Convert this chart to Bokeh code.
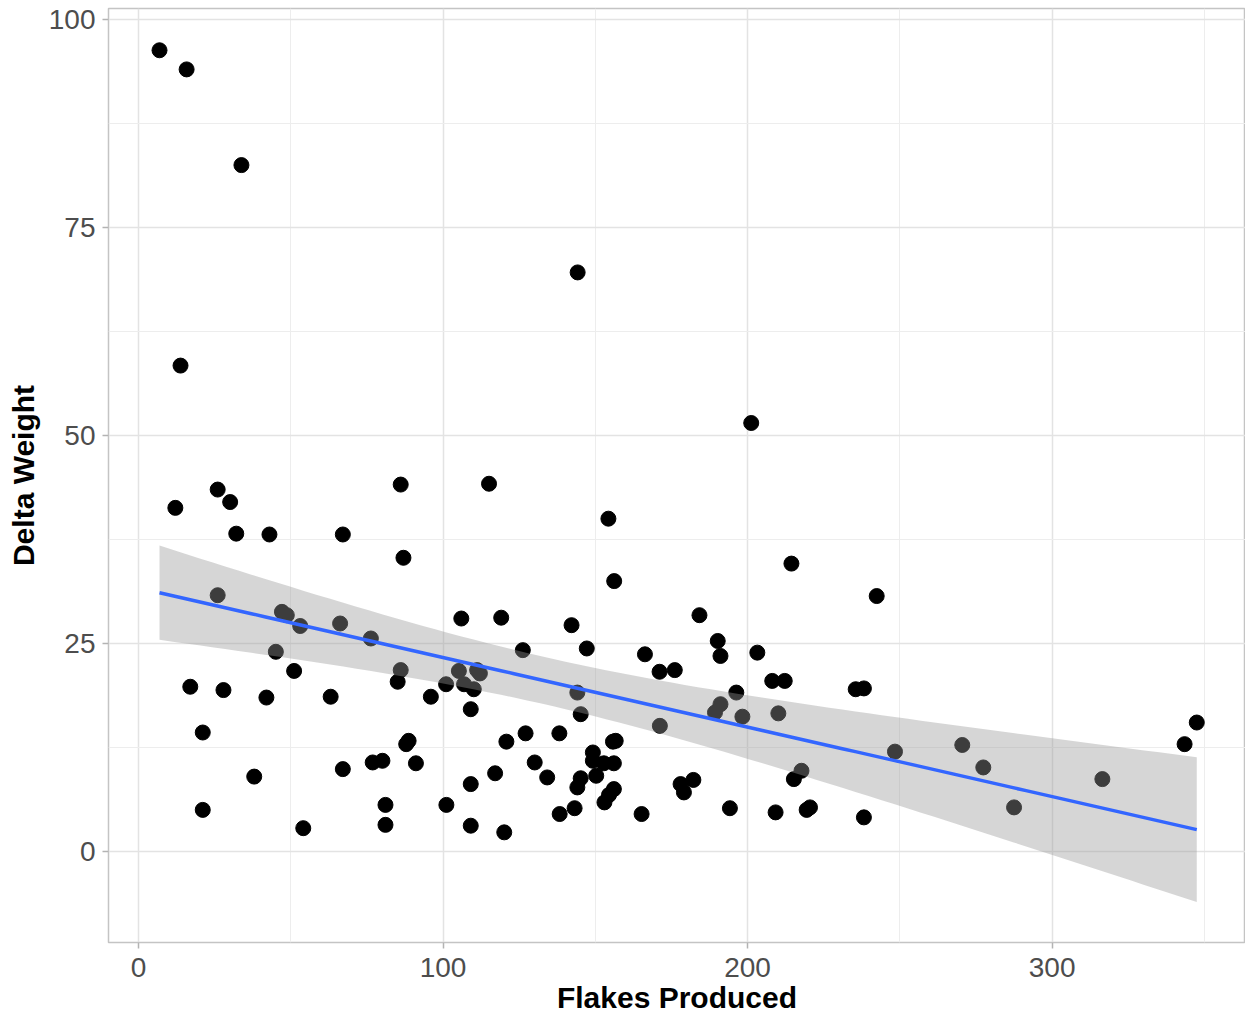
import numpy as np
from bokeh.plotting import figure
from bokeh.models import FixedTicker
from bokeh.embed import file_html
from bokeh.resources import INLINE

# ---- data ----
flakes = [6.9, 15.8, 33.8, 13.8, 12.1, 26.0, 30.1, 32.1, 43.0, 67.1,
          86.1, 87.0, 115.1, 144.2, 154.3, 156.2, 201.2, 214.4, 242.4, 26.0,
          47.1, 48.7, 53.1, 66.2, 76.3, 45.1, 86.1, 85.1, 51.1, 17.0,
          27.9, 42.0, 63.1, 21.1, 38.0, 21.1, 54.1, 67.1, 76.9, 80.1,
          81.1, 81.1, 88.7, 87.9, 91.1, 96.0, 101.0, 106.0, 105.2, 106.9,
          110.1, 109.1, 111.2, 112.1, 101.1, 109.1, 109.1, 117.1, 120.1, 120.8,
          119.1, 126.2, 127.1, 130.1, 134.2, 138.2, 138.3, 143.2, 142.2, 144.1,
          145.2, 147.2, 144.1, 145.2, 149.2, 149.2, 150.3, 152.8, 156.1, 156.7,
          155.8, 153.0, 154.5, 156.1, 165.2, 166.3, 171.1, 176.1, 171.2, 178.0,
          179.1, 182.2, 184.2, 190.2, 191.1, 189.3, 191.1, 196.3, 198.3, 194.2,
          203.2, 208.1, 212.2, 210.1, 209.2, 215.2, 217.7, 219.4, 220.5, 235.5,
          238.2, 238.2, 248.4, 270.5, 277.4, 287.5, 316.5, 343.5, 347.5]
delta_weight = [96.3, 94.0, 82.5, 58.4, 41.3, 43.5, 42.0, 38.2, 38.1, 38.1,
                44.1, 35.3, 44.2, 69.6, 40.0, 32.5, 51.5, 34.6, 30.7, 30.8,
                28.8, 28.4, 27.1, 27.4, 25.6, 24.0, 21.8, 20.4, 21.7, 19.8,
                19.4, 18.5, 18.6, 14.3, 9.0, 5.0, 2.8, 9.9, 10.7, 10.9,
                5.6, 3.2, 13.3, 12.9, 10.6, 18.6, 20.1, 28.0, 21.7, 20.1,
                19.5, 17.1, 21.8, 21.4, 5.6, 8.1, 3.1, 9.4, 2.3, 13.2,
                28.1, 24.2, 14.2, 10.7, 8.9, 14.2, 4.5, 5.2, 27.2, 19.1,
                16.5, 24.4, 7.7, 8.8, 11.9, 10.9, 9.1, 10.6, 10.6, 13.3,
                13.2, 5.9, 6.8, 7.5, 4.5, 23.7, 21.6, 21.8, 15.1, 8.1,
                7.1, 8.6, 28.4, 25.3, 23.5, 16.7, 17.7, 19.1, 16.2, 5.2,
                23.9, 20.5, 20.5, 16.6, 4.7, 8.7, 9.7, 5.0, 5.3, 19.5,
                19.6, 4.1, 12.0, 12.8, 10.1, 5.3, 8.7, 12.9, 15.5]

x_ticks = [0, 100, 200, 300]
x_minor = [50, 150, 250, 350]
y_ticks = [0, 25, 50, 75, 100]
y_minor = [-12.5, 12.5, 37.5, 62.5, 87.5]

# ---- linear model with 95% confidence band (like geom_smooth(method="lm")) ----
x = np.array(flakes, dtype=float)
y = np.array(delta_weight, dtype=float)
n = len(x)
b1, b0 = np.polyfit(x, y, 1)
xs = np.linspace(x.min(), x.max(), 80)
fit = b0 + b1 * xs
resid = y - (b0 + b1 * x)
s = np.sqrt(np.sum(resid ** 2) / (n - 2))
se = s * np.sqrt(1.0 / n + (xs - x.mean()) ** 2 / np.sum((x - x.mean()) ** 2))
t_crit = 1.98
lower = fit - t_crit * se
upper = fit + t_crit * se

p = figure(width=1245, height=1016, x_range=(-9.85, 363.5), y_range=(-10.94, 101.32),
           output_backend="svg", toolbar_location=None,
           min_border_left=108, min_border_right=0, min_border_top=8, min_border_bottom=0)

p.background_fill_color = "white"
p.border_fill_color = "white"
p.outline_line_color = "#C4C4C4"
p.outline_line_width = 1.5

p.scatter(x, y, size=15, color="black")
p.varea(x=xs, y1=lower, y2=upper, fill_color="#999999", fill_alpha=0.4)
p.line(xs, fit, line_color="#3366FF", line_width=3.5)

p.xaxis.ticker = FixedTicker(ticks=x_ticks, minor_ticks=x_minor)
p.yaxis.ticker = FixedTicker(ticks=y_ticks, minor_ticks=y_minor)

for g in (p.xgrid, p.ygrid):
    g.grid_line_color = "#E3E3E3"
    g.grid_line_width = 1.5
    g.minor_grid_line_color = "#EDEDED"
    g.minor_grid_line_width = 1

p.xaxis.axis_label = "Flakes Produced"
p.yaxis.axis_label = "Delta Weight"
for ax in (p.xaxis, p.yaxis):
    ax.axis_line_color = None
    ax.major_tick_line_color = "#B3B3B3"
    ax.major_tick_line_width = 1.5
    ax.major_tick_out = 6
    ax.major_tick_in = 0
    ax.minor_tick_out = 0
    ax.minor_tick_in = 0
    ax.major_label_text_font = "Liberation Sans"
    ax.major_label_text_font_size = "28px"
    ax.major_label_text_color = "#4D4D4D"
    ax.axis_label_text_font = "Liberation Sans"
    ax.axis_label_text_font_style = "bold"
    ax.axis_label_text_font_size = "30px"
    ax.axis_label_text_color = "black"
p.xaxis.major_label_standoff = 9
p.xaxis.axis_label_standoff = 1
p.yaxis.major_label_standoff = 7
p.yaxis.axis_label_standoff = 6

open("out.html", "w").write(file_html(p, INLINE))
